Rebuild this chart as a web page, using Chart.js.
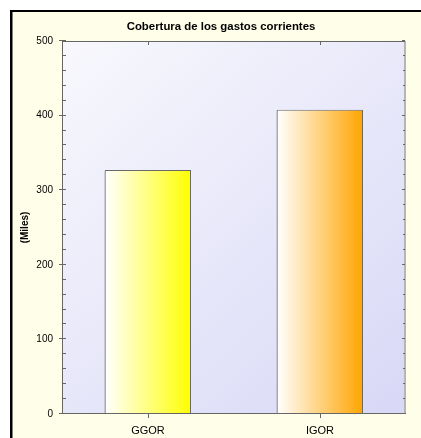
<!DOCTYPE html>
<html>
<head>
<meta charset="utf-8">
<script src="https://cdn.jsdelivr.net/npm/chart.js@4"></script>
<style>
  html, body { margin: 0; padding: 0; background: #ffffff; }
  #wrap { width: 421px; height: 438px; }
</style>
</head>
<body>
<div id="wrap"><canvas id="gastosChart" width="421" height="438"></canvas></div>
<script>
const categories = ['GGOR', 'IGOR'];
const values = [327, 408];
const barColors = ['#ffff00', '#ffa500'];
const yTicks = [0, 100, 200, 300, 400, 500];
const chartTitle = 'Cobertura de los gastos corrientes';
const yTitle = '(Miles)';

const frameAndPlot = {
    id: 'frameAndPlot',
    beforeDraw(chart) {
        const ctx = chart.ctx;
        const a = chart.chartArea;
        ctx.save();
        ctx.fillStyle = '#ffffff';
        ctx.fillRect(0, 0, chart.width, chart.height);
        ctx.fillStyle = '#fffee9';
        ctx.fillRect(10, 10, chart.width - 10, chart.height - 10);
        ctx.fillStyle = '#000000';
        ctx.fillRect(10, 10, 2.5, chart.height - 10);
        ctx.fillRect(10, 10, chart.width - 10, 2);

        const g = ctx.createLinearGradient(a.left, a.top, a.right, a.bottom);
        g.addColorStop(0, '#f8f8fd');
        g.addColorStop(1, '#d8d8f7');
        ctx.fillStyle = g;
        ctx.fillRect(a.left, a.top, a.right - a.left, a.bottom - a.top);

        // title
        ctx.fillStyle = '#000000';
        ctx.font = 'bold 11.4px "Liberation Sans", Arial, sans-serif';
        ctx.textAlign = 'center';
        ctx.textBaseline = 'middle';
        ctx.fillText(chartTitle, 221, 27);
        ctx.restore();
    },
    afterDatasetsDraw(chart) {
        const ctx = chart.ctx;
        const a = chart.chartArea;
        const y = chart.scales.y;
        const x = chart.scales.x;
        ctx.save();
        // bar left shading
        chart.getDatasetMeta(0).data.forEach(bar => {
            const p = bar.getProps(['x', 'y', 'width', 'base'], true);
            ctx.fillStyle = '#a9a9a9';
            ctx.fillRect(p.x - p.width / 2 - 0.5, p.y + 1, 1.5, p.base - p.y - 1);
        });
        // frame lines of the plot
        ctx.fillStyle = '#b5b5b5';
        ctx.fillRect(a.right - 2, a.top, 2, a.bottom - a.top);
        ctx.strokeStyle = '#666666';
        ctx.lineWidth = 1;
        ctx.beginPath();
        ctx.moveTo(a.left, a.top + 0.5);
        ctx.lineTo(a.right - 1, a.top + 0.5);
        ctx.moveTo(a.left + 0.5, a.top);
        ctx.lineTo(a.left + 0.5, a.bottom);
        ctx.moveTo(a.left, a.bottom - 0.5);
        ctx.lineTo(a.right, a.bottom - 0.5);
        ctx.stroke();

        // y ticks, major and minor
        ctx.beginPath();
        for (let v = yTicks[0]; v <= yTicks[yTicks.length - 1]; v += 20) {
            const py = Math.round(y.getPixelForValue(v)) - 0.5;
            const major = yTicks.includes(v);
            ctx.moveTo(major ? a.left - 3 : a.left, py);
            ctx.lineTo(a.left + 4, py);
            ctx.moveTo(a.right - (major ? 4 : 3), py);
            ctx.lineTo(a.right - 1, py);
        }
        // x ticks
        categories.forEach((c, i) => {
            const px = Math.round(x.getPixelForValue(i)) + 0.5;
            ctx.moveTo(px, a.bottom);
            ctx.lineTo(px, a.bottom + 4);
            ctx.moveTo(px, a.top);
            ctx.lineTo(px, a.top + 4);
        });
        ctx.stroke();
        ctx.restore();
    }
};

function barGradient(context) {
    const chart = context.chart;
    const x = chart.scales.x;
    if (!x || !chart.chartArea) return barColors[context.dataIndex];
    const cx = x.getPixelForValue(context.dataIndex);
    const half = (x.width / categories.length) * 0.25;
    const g = chart.ctx.createLinearGradient(cx - half, 0, cx + half, 0);
    g.addColorStop(0, '#ffffff');
    g.addColorStop(1, barColors[context.dataIndex]);
    return g;
}

const ctx = document.getElementById('gastosChart').getContext('2d');
const gastosChart = new Chart(ctx, {
    type: 'bar',
    plugins: [frameAndPlot],
    data: {
        labels: categories,
        datasets: [{
            data: values,
            backgroundColor: barGradient,
            borderColor: '#6a6a6a',
            borderWidth: 1,
            borderSkipped: 'bottom',
            categoryPercentage: 0.5,
            barPercentage: 1
        }]
    },
    options: {
        responsive: false,
        animation: false,
        devicePixelRatio: 1,
        layout: {
            padding: { left: 0, right: 15, top: 41, bottom: 0 }
        },
        plugins: {
            legend: { display: false },
            tooltip: { enabled: false },
            title: { display: false }
        },
        scales: {
            x: {
                offset: true,
                grid: { display: false, drawTicks: false },
                border: { display: false },
                ticks: {
                    color: '#000000',
                    padding: 10,
                    font: { family: '"Liberation Sans", Arial, sans-serif', size: 11 }
                },
                afterFit(scale) { scale.height = 24; }
            },
            y: {
                min: 0,
                max: 500,
                grid: { display: false, drawTicks: false },
                border: { display: false },
                afterBuildTicks(scale) {
                    scale.ticks = yTicks.map(v => ({ value: v }));
                },
                ticks: {
                    color: '#000000',
                    padding: 9,
                    font: { family: '"Liberation Sans", Arial, sans-serif', size: 10 }
                },
                title: {
                    display: true,
                    text: yTitle,
                    color: '#000000',
                    padding: { top: 19.5, bottom: 0 },
                    font: { family: '"Liberation Sans", Arial, sans-serif', size: 10, weight: 'bold' }
                },
                afterFit(scale) { scale.width = 62; }
            }
        }
    }
});
</script>
</body>
</html>
